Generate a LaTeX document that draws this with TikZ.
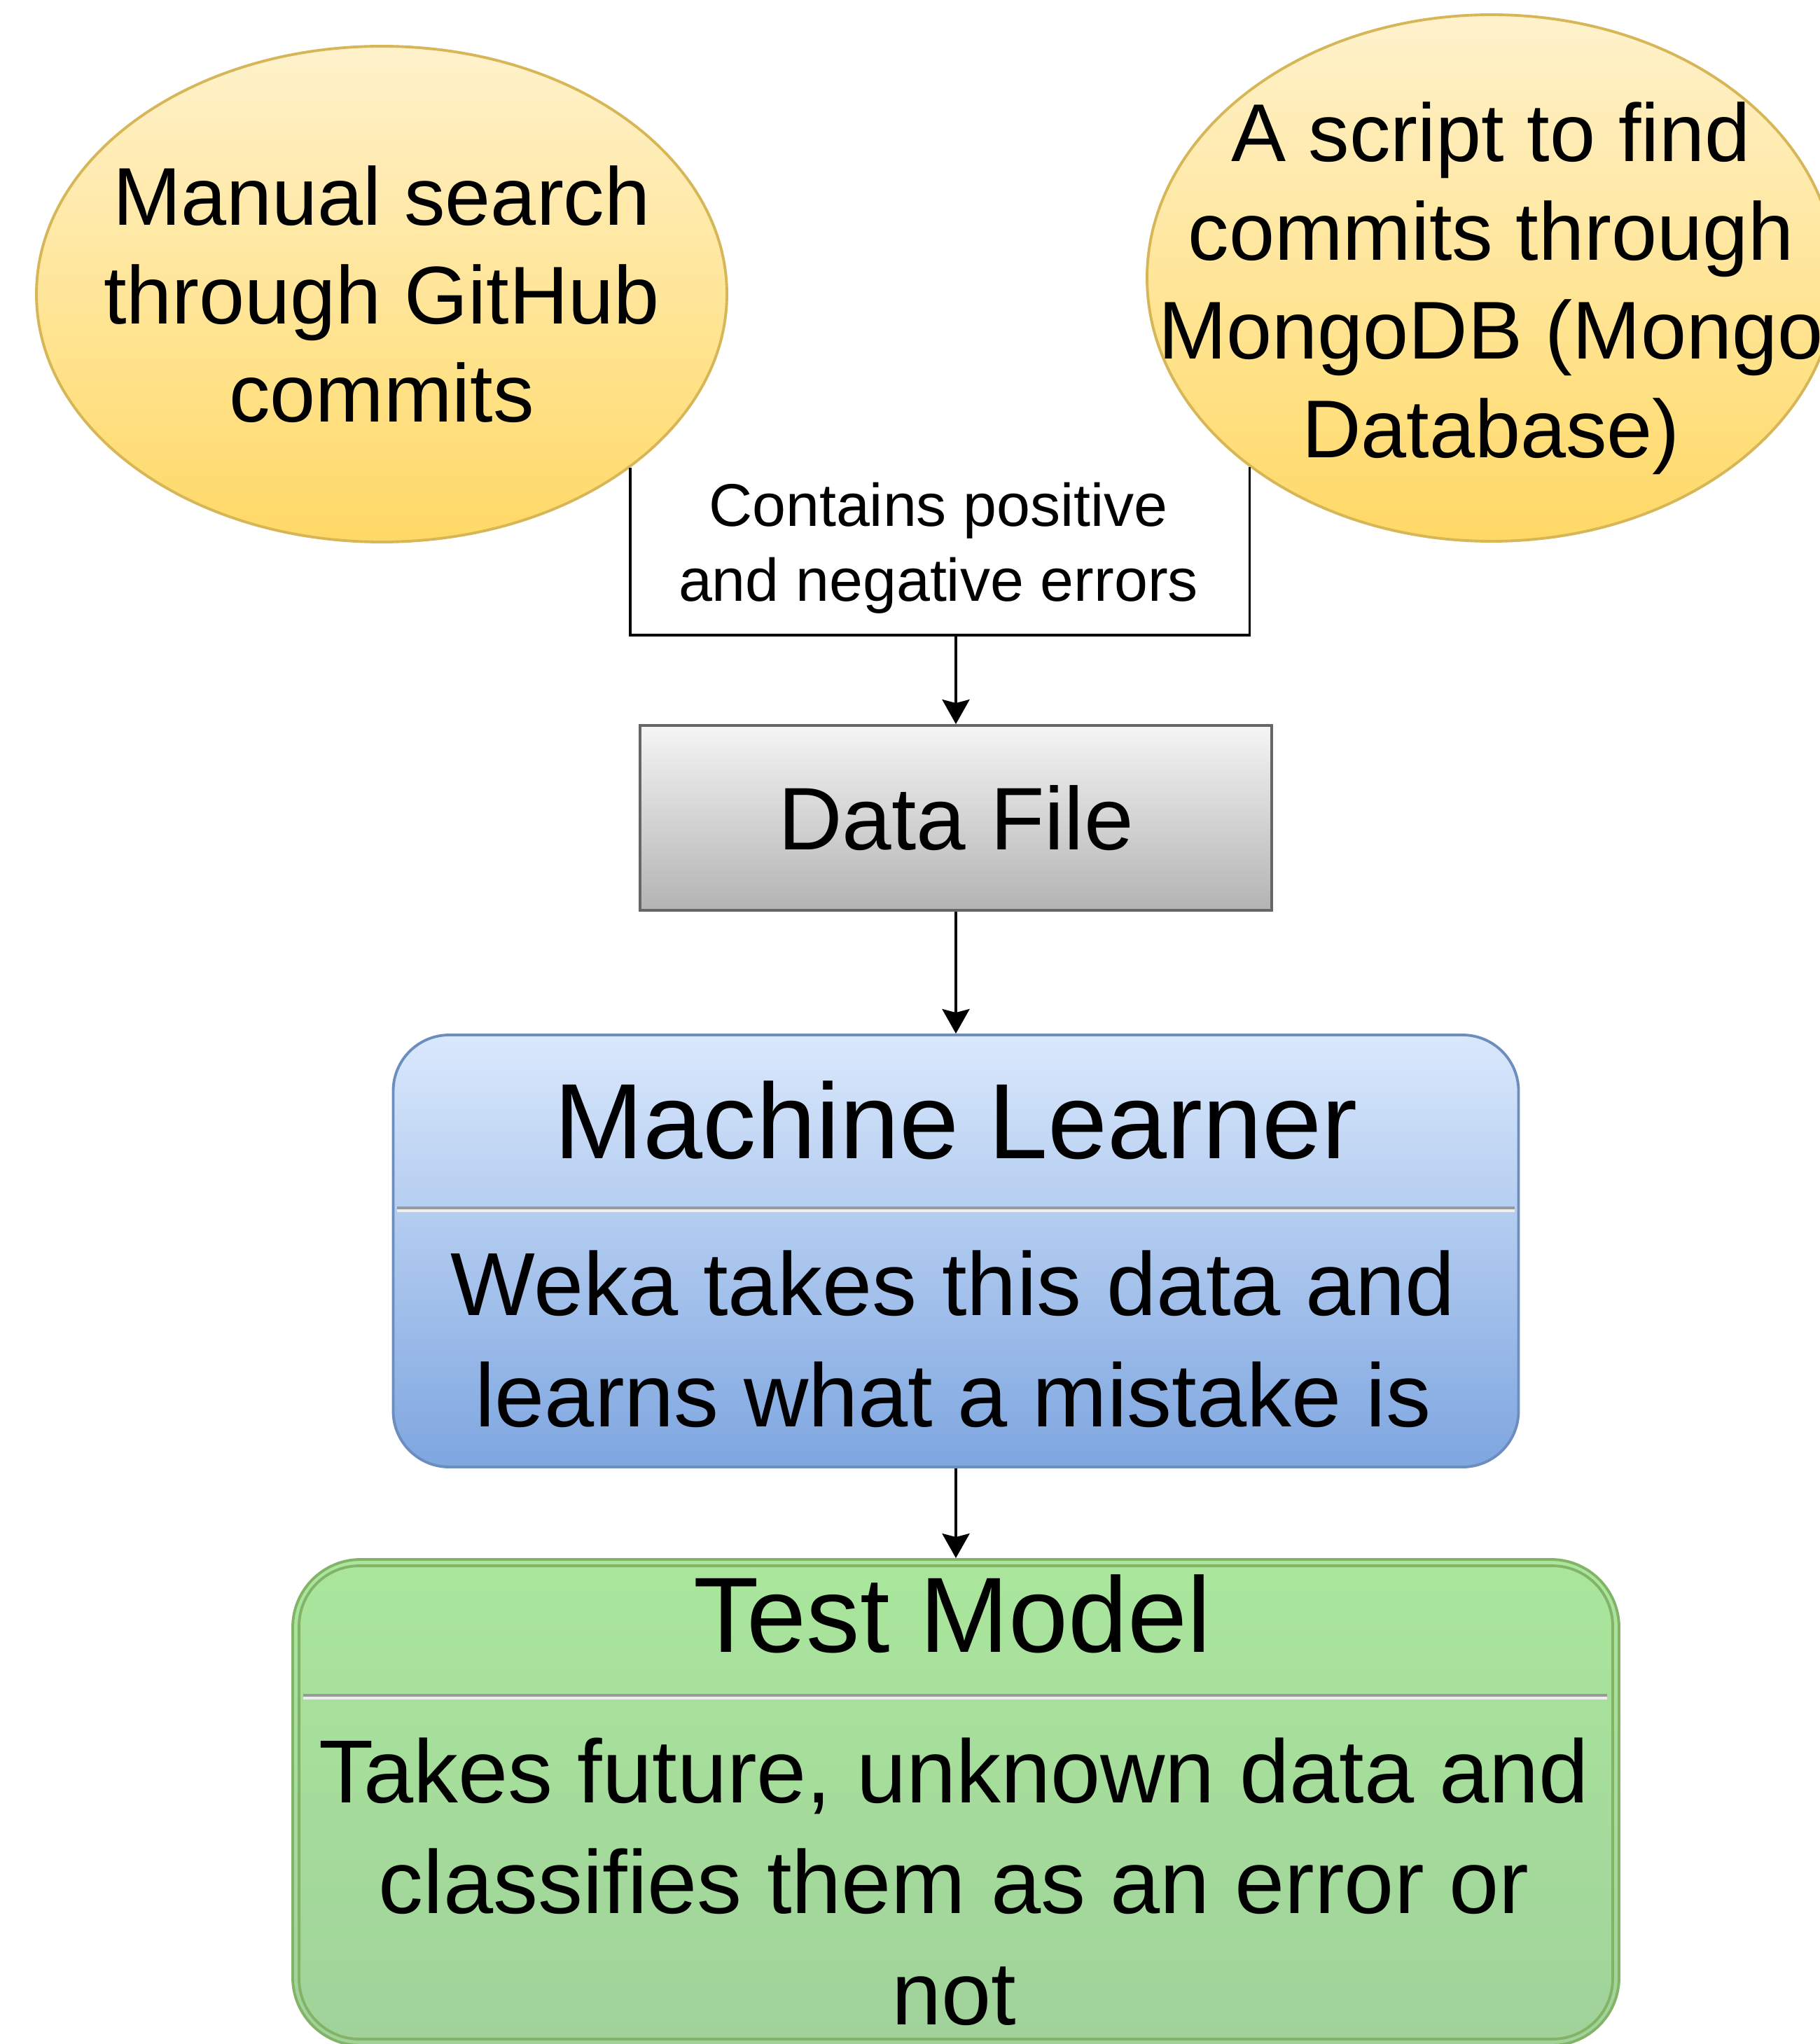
\documentclass[tikz,border=0pt]{standalone}
\usepackage{fontspec}
\setmainfont{Liberation Sans}
\usepackage{xcolor}
\usepackage{tikz}
\usetikzlibrary{arrows.meta,shapes,positioning,calc}
\definecolor{gold-light}{HTML}{FFF2CC}
\definecolor{gold-dark}{HTML}{FFD966}
\definecolor{gold-line}{HTML}{D6B656}
\definecolor{grey-light}{HTML}{F5F5F5}
\definecolor{grey-dark}{HTML}{B3B3B3}
\definecolor{grey-line}{HTML}{666666}
\definecolor{steel-light}{HTML}{DAE8FC}
\definecolor{steel-dark}{HTML}{7EA6E0}
\definecolor{steel-line}{HTML}{6C8EBF}
\definecolor{moss-light}{HTML}{AAE69C}
\definecolor{moss-dark}{HTML}{A0D29A}
\definecolor{moss-line}{HTML}{82B366}
\definecolor{rule-grey}{HTML}{999999}
\definecolor{rule-white}{HTML}{EEEEEE}
\newcommand{\srcfont}{\fontsize{33.3}{40.1}\selectfont}
\newcommand{\notefont}{\fontsize{24.5}{30.2}\selectfont}
\newcommand{\filefont}{\fontsize{36.1}{43}\selectfont}
\newcommand{\titlefont}{\fontsize{43.5}{52}\selectfont}
\newcommand{\bodyfont}{\fontsize{36.4}{45}\selectfont}

\begin{document}
\begin{tikzpicture}
      [node distance=6cm, on grid, src/.style = {shape=ellipse,
        draw=gold-line, top color=gold-light, bottom color=gold-dark,
        line width=1.1pt, inner sep=0pt}, src text/.style = {align=center,
        anchor=base, font=\srcfont}, file box/.style = {rectangle,
        draw=grey-line, top color=grey-light, bottom color=grey-dark,
        line width=1.1pt, minimum width=9.02cm, minimum height=2.64cm},
      stage/.style = {rectangle, rounded corners=0.8cm, line width=1.1pt},
      stage title/.style = {anchor=base, font=\titlefont}, stage
      body/.style = {align=center, anchor=base, font=\bodyfont},
      divider/.style = {line width=1.1pt, rule-grey}, flow/.style =
      {-{Stealth[length=3.5mm, width=3.9mm, inset=0.5mm]}, line width=1.1pt}]

      \useasboundingbox (0,0) rectangle (25.99,-29.19);

      \node [src, minimum width=9.86cm, minimum height=7.08cm] (manual)
      at (5.45,-4.20) {}; \node [src text] (manualtext) at (5.45,-6.03)
      {Manual search\\through GitHub\\commits};
      \node [src, minimum width=9.84cm, minimum height=7.52cm] (script)
      at (21.30,-3.97) {}; \node [src text] (scripttext) at (21.29,-6.53)
      {A script to find\\commits through\\MongoDB (Mongo\\Database)};

      \coordinate (gather) at (13.65,-9.07);
      \draw [line width=1.1pt] (manual.-35.5) |- (gather) -| (script.-142.6);
      \node [align=center, anchor=base, font=\notefont] (errors) at
      (13.40,-8.58) {Contains positive\\and negative errors};

      \node [file box, font=\filefont] (data) at (13.65,-11.68) {Data File};

      \node [stage, draw=steel-line, top color=steel-light, bottom
      color=steel-dark, minimum width=16.07cm, minimum height=6.17cm,
      below=6.185cm of data] (learner) {};
      \draw [divider] ($(learner.north west)+(0.07,-2.49)$) --
      ($(learner.north east)+(-0.07,-2.49)$);
      \draw [divider, rule-white] ($(learner.north west)+(0.07,-2.53)$) --
      ($(learner.north east)+(-0.07,-2.53)$);
      \node [stage title] (learnertitle) at ($(learner.north)+(0,-1.78)$)
      {Machine Learner}; \node [stage body] (learnerbody) at
      ($(learner.north)+(-0.04,-5.61)$) {Weka takes this data and\\learns
        what a mistake is};

      \node [stage, rounded corners=0.97cm, draw=moss-line, top
      color=moss-light, bottom color=moss-dark, minimum width=18.94cm,
      minimum height=6.94cm, below=7.875cm of learner] (model) {};
      \draw [moss-line, line width=1.1pt, rounded corners=0.86cm]
      ($(model.north west)+(0.11,-0.11)$) rectangle
      ($(model.south east)+(-0.11,0.11)$);
      \draw [divider] ($(model.north west)+(0.17,-1.96)$) --
      ($(model.north east)+(-0.19,-1.96)$);
      \draw [divider, rule-white] ($(model.north west)+(0.17,-2.00)$) --
      ($(model.north east)+(-0.19,-2.00)$);
      \node [stage title] (modeltitle) at ($(model.north)+(-0.05,-1.34)$)
      {Test Model}; \node [stage body] (modelbody) at
      ($(model.north)+(-0.03,-6.66)$) {Takes future, unknown data
        and\\classifies them as an error or\\not};

      \draw [flow] (gather) -- (data);
      \draw [flow] (data) -- (learner);
      \draw [flow] (learner) -- (model);
    \end{tikzpicture}
\end{document}
